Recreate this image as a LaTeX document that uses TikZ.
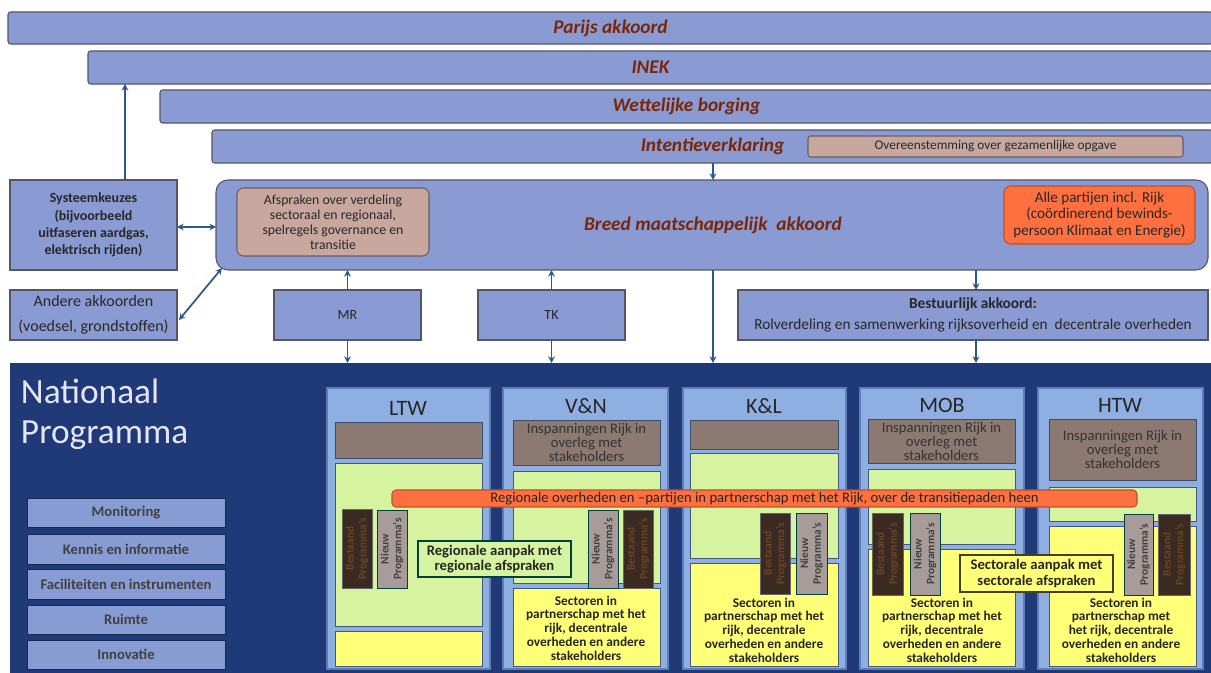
\documentclass[tikz,border=0pt]{standalone}
\usepackage{fontspec}
\setmainfont{Carlito}
\usetikzlibrary{arrows.meta}
\definecolor{barf}{RGB}{138,154,210}
\definecolor{barb}{RGB}{85,85,105}
\definecolor{titc}{RGB}{122,38,8}
\definecolor{pinkf}{RGB}{200,168,158}
\definecolor{orf}{RGB}{255,112,64}
\definecolor{orb}{RGB}{190,80,40}
\definecolor{panelc}{RGB}{31,58,118}
\definecolor{colf}{RGB}{143,174,226}
\definecolor{colb}{RGB}{95,125,185}
\definecolor{brownf}{RGB}{140,122,114}
\definecolor{greenf}{RGB}{214,244,160}
\definecolor{yelf}{RGB}{255,255,120}
\definecolor{bestf}{RGB}{58,42,34}
\definecolor{nieuwf}{RGB}{168,156,154}
\definecolor{arrc}{RGB}{43,90,138}
\definecolor{listf}{RGB}{136,156,212}
\definecolor{txtd}{RGB}{40,40,40}
\newcommand{\bx}[7]{\node[#6, minimum width={(#4-#2)*0.75pt}, minimum height={(#5-#3)*0.75pt}] (#1) at ({(#2+#4)/2},{(#3+#5)/2}) {#7};}
\begin{document}
\begin{tikzpicture}[x=0.75pt,y=-0.75pt,
  base/.style={inner sep=0pt, outer sep=0pt, align=center, text=txtd},
  bar/.style={base, draw=barb, fill=barf, line width=0.8pt, rounded corners=2pt, font=\fontsize{14.5}{16}\selectfont\bfseries\itshape, text=titc},
  bluebox/.style={base, draw=barb, fill=barf, line width=0.8pt},
  pinkbox/.style={base, draw=barb!80!brown, fill=pinkf, line width=0.8pt, rounded corners=5pt},
  orbox/.style={base, draw=orb, fill=orf, line width=0.8pt, rounded corners=5pt},
  listbox/.style={base, fill=listf, draw=panelc!70!black, line width=0.6pt, font=\fontsize{11}{12}\selectfont\bfseries, text=black!75},
  colbox/.style={base, fill=colf, draw=colb, line width=0.8pt},
  brownbox/.style={base, fill=brownf, draw=colb!60!black, line width=0.6pt, font=\fontsize{11}{10.5}\selectfont, text=black!80},
  greenbox/.style={base, fill=greenf, draw=colb!70!black, line width=0.6pt},
  yelbox/.style={base, fill=yelf, draw=colb!70!black, line width=0.6pt},
  bestbox/.style={base, fill=bestf, draw=black!60, line width=0.5pt},
  nieuwbox/.style={base, fill=nieuwf, draw=black!50!teal, line width=0.5pt},
  vtext/.style={base, rotate=90, font=\fontsize{8.5}{9.5}\selectfont\bfseries},
  sect/.style={base, font=\fontsize{10}{10.3}\selectfont\bfseries, text=black!85},
  coltitle/.style={base, font=\fontsize{16.5}{18}\selectfont, text=black!85},
  arr/.style={draw=arrc, line width=1.3pt, -{Stealth[length=5pt,width=5pt]}},
  darr/.style={draw=arrc, line width=1.3pt, {Stealth[length=5pt,width=5pt]}-{Stealth[length=5pt,width=5pt]}},
  ln/.style={draw=arrc, line width=1.3pt}
]
\useasboundingbox (0,0) rectangle (1211,673);
\fill[white] (0,0) rectangle (1211,673);

% top bars
\bx{parijs}{8}{12}{1213}{44}{bar}{Parijs akkoord}
\bx{inek}{88}{51}{1213}{84}{bar}{INEK}
\bx{wett}{160}{90}{1213}{123}{bar}{Wettelijke borging}
\bx{intent}{212}{130}{1213}{163}{bar}{Intentieverklaring}
\bx{overeen}{808}{136}{1183}{157}{pinkbox,rounded corners=2pt,font=\fontsize{10}{11}\selectfont}{Overeenstemming over gezamenlijke opgave}

% middle
\bx{sys}{10}{180}{177}{270}{bluebox,font=\fontsize{10.5}{13}\selectfont\bfseries}{Systeemkeuzes\\(bijvoorbeeld\\uitfaseren aardgas,\\elektrisch rijden)}
\bx{breed}{216}{180}{1208}{270}{bluebox,rounded corners=9pt}{}
\node[base, font=\fontsize{14.5}{16}\selectfont\bfseries\itshape, text=titc] (breedt) at (713,225) {Breed\ maatschappelijk\ \ akkoord};
\bx{afspr}{237}{188}{429}{256}{pinkbox,font=\fontsize{10.3}{11.2}\selectfont}{Afspraken over verdeling\\sectoraal en regionaal,\\spelregels governance en\\transitie}
\bx{alle}{1004}{186}{1195}{244}{orbox,font=\fontsize{11.3}{12.3}\selectfont}{Alle partijen incl. Rijk\\(coördinerend bewinds-\\persoon Klimaat en Energie)}
\bx{andere}{10}{290}{177}{340}{bluebox,font=\fontsize{12}{18.5}\selectfont}{Andere akkoorden\\(voedsel, grondstoffen)}
\bx{mr}{274}{290}{421}{340}{bluebox,font=\fontsize{10.5}{12}\selectfont}{MR}
\bx{tk}{478}{290}{625}{340}{bluebox,font=\fontsize{10.5}{12}\selectfont}{TK}
\bx{best}{738}{290}{1208}{340}{bluebox,font=\fontsize{11.5}{15.5}\selectfont}{\textbf{Bestuurlijk akkoord:}\\Rolverdeling en samenwerking rijksoverheid en\ \ decentrale overheden}

% panel
\bx{np}{10}{363}{1213}{675}{base,fill=panelc}{}
\node[base, anchor=north west, align=left, text=white!90!blue, font=\fontsize{26.5}{30}\selectfont] (npt) at (21,379) {Nationaal\\Programma};

\bx{mon}{27}{498}{225}{527}{listbox}{Monitoring}
\bx{ken}{27}{534}{225}{564}{listbox}{Kennis en informatie}
\bx{fac}{27}{569}{225}{599}{listbox}{Faciliteiten en instrumenten}
\bx{ruim}{27}{605}{225}{634}{listbox}{Ruimte}
\bx{inno}{27}{640}{225}{669}{listbox}{Innovatie}

% columns
\bx{ltw}{327}{388}{490}{669}{colbox}{}
\bx{vn}{503}{388}{668}{669}{colbox}{}
\bx{kl}{683}{388}{846}{669}{colbox}{}
\bx{mob}{860}{388}{1024}{669}{colbox}{}
\bx{htw}{1038}{388}{1203}{669}{colbox}{}
\node[coltitle] (ltwt) at (408,408) {LTW};
\node[coltitle] (vnt) at (586,406) {V\&N};
\node[coltitle] (klt) at (764,406) {K\&L};
\node[coltitle] (mobt) at (942,405) {MOB};
\node[coltitle] (htwt) at (1120,405) {HTW};

% LTW
\bx{ltwb}{335}{422}{482}{458}{brownbox}{}
\bx{ltwg}{335}{463}{482}{626}{greenbox}{}
\bx{ltwy}{335}{631}{482}{666}{yelbox}{}
% V&N
\bx{vnb}{513}{420}{660}{465}{brownbox}{Inspanningen Rijk in\\overleg met\\stakeholders}
\bx{vng}{513}{471}{660}{583}{greenbox}{}
\bx{vny}{513}{588}{660}{666}{yelbox}{}
\node[sect] (vns) at (586,628) {Sectoren in\\partnerschap met het\\rijk, decentrale\\overheden en andere\\stakeholders};
% K&L
\bx{klb}{690}{420}{838}{449}{brownbox}{}
\bx{klg}{690}{453}{838}{558}{greenbox}{}
\bx{kly}{690}{563}{838}{666}{yelbox}{}
\node[sect] (kls) at (764,630) {Sectoren in\\partnerschap met het\\rijk, decentrale\\overheden en andere\\stakeholders};
% MOB
\bx{mobb}{868}{419}{1015}{463}{brownbox}{Inspanningen Rijk in\\overleg met\\stakeholders}
\bx{mobg}{868}{469}{1015}{544}{greenbox}{}
\bx{moby}{868}{549}{1015}{666}{yelbox}{}
\node[sect] (mobs) at (942,630) {Sectoren in\\partnerschap met het\\rijk, decentrale\\overheden en andere\\stakeholders};
% HTW
\bx{htwb}{1049}{419}{1196}{480}{brownbox}{Inspanningen Rijk in\\overleg met\\stakeholders}
\bx{htwg}{1049}{487}{1196}{521}{greenbox}{}
\bx{htwy}{1049}{526}{1196}{666}{yelbox}{}
\node[sect] (htws) at (1121,630) {Sectoren in\\partnerschap met\\het rijk, decentrale\\overheden en andere\\stakeholders};

% orange band
\bx{reg}{392}{490}{1137}{507}{orbox,rounded corners=3pt,font=\fontsize{11}{11}\selectfont,text=black!85}{Regionale overheden en –partijen in partnerschap met het Rijk, over de transitiepaden heen}

% programme bars
\bx{ltwbe}{342}{509}{372}{588}{bestbox}{}
\bx{ltwni}{377}{510}{407}{588}{nieuwbox}{}
\bx{vnni}{588}{510}{618}{588}{nieuwbox}{}
\bx{vnbe}{623}{510}{653}{588}{bestbox}{}
\bx{klbe}{760}{513}{790}{594}{bestbox}{}
\bx{klni}{796}{513}{827}{594}{nieuwbox}{}
\bx{mobbe}{872}{513}{903}{595}{bestbox}{}
\bx{mobni}{910}{513}{940}{595}{nieuwbox}{}
\bx{htwni}{1124}{514}{1153}{595}{nieuwbox}{}
\bx{htwbe}{1158}{514}{1190}{595}{bestbox}{}
\foreach \n in {ltwbe,vnbe,klbe,mobbe,htwbe}{
  \node[vtext, text=brown!55!black] (\n-t) at (\n.center) {Bestaand\\Programma's};
}
\foreach \n in {ltwni,vnni,klni,mobni,htwni}{
  \node[vtext, text=black!75] (\n-t) at (\n.center) {Nieuw\\Programma's};
}

\bx{regaanp}{418}{541}{571}{577}{greenbox,draw=teal!50!black,line width=1pt,font=\fontsize{11}{11.5}\selectfont\bfseries,text=black!85}{Regionale aanpak met\\regionale afspraken}
\bx{sectaanp}{960}{555}{1113}{592}{yelbox,draw=black!70!olive,line width=1pt,font=\fontsize{11}{11.5}\selectfont\bfseries,text=black!85}{Sectorale aanpak met\\sectorale afspraken}

% connectors
\coordinate (xa) at (125,0);
\coordinate (xb) at (713,0);
\coordinate (xc) at (976,0);
\coordinate (ya) at (0,227);
\draw[arr] (sys.north -| xa) -- (inek.south -| xa);
\draw[arr] (intent.south -| xb) -- (breed.north -| xb);
\draw[darr] (sys.east |- ya) -- (breed.west |- ya);
\draw[darr] ([shift={(6,-2)}]breed.south west) -- ([shift={(2,5)}]andere.east);
\draw[arr] (mr.north) -- (breed.south -| mr.north);
\draw[arr] (mr.south) -- (np.north -| mr.south);
\draw[arr] (tk.north) -- (breed.south -| tk.north);
\draw[arr] (tk.south) -- (np.north -| tk.south);
\draw[arr] (breed.south -| xb) -- (np.north -| xb);
\draw[arr] (breed.south -| xc) -- (best.north -| xc);
\draw[arr] (best.south -| xc) -- (np.north -| xc);
\end{tikzpicture}
\end{document}
